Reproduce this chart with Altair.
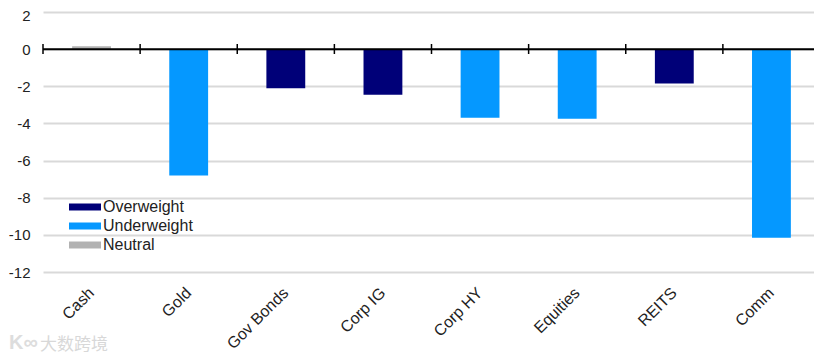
import altair as alt
import pandas as pd

categories = ["Cash", "Gold", "Gov Bonds", "Corp IG", "Corp HY", "Equities", "REITS", "Comm"]
values = [0.15, -6.8, -2.1, -2.45, -3.7, -3.75, -1.85, -10.15]
stance = ["Neutral", "Underweight", "Overweight", "Overweight", "Underweight", "Underweight", "Overweight", "Underweight"]
legend_order = ["Overweight", "Underweight", "Neutral"]
legend_colors = ["#000078", "#0598FF", "#B2B2B2"]
y_ticks = [2, 0, -2, -4, -6, -8, -10, -12]
boundaries = [0, 1, 2, 3, 4, 5, 6, 7]

df = pd.DataFrame({"cat": categories, "v": values, "stance": stance})
FONT = "Liberation Sans"

y_axis = alt.Axis(values=y_ticks, labelExpr="'' + datum.value", ticks=False, domain=False, grid=True,
                  gridColor="#D9D9D9", gridWidth=2, labelPadding=13, labelOverlap=False,
                  labelBound=False, labelFlush=False,
                  labelOffset={"condition": {"test": "datum.value == 2", "value": 3}, "value": 0},
                  labelFont=FONT, labelFontSize=15, labelColor="#222222")
y_scale = alt.Scale(domain=[-12, 2], nice=False)

bars = alt.Chart(df).mark_bar().encode(
    x=alt.X("cat:N", sort=categories, title=None,
            scale=alt.Scale(paddingInner=0.6, paddingOuter=0.3),
            axis=alt.Axis(labelAngle=-45, labelAlign="right", labelBaseline="middle",
                          labelPadding=18, ticks=False, domain=False, grid=False, labelOverlap=False,
                          labelFont=FONT, labelFontSize=16, labelColor="#222222")),
    y=alt.Y("v:Q", title=None, scale=y_scale, axis=y_axis),
    color=alt.Color("stance:N", title=None,
                    scale=alt.Scale(domain=legend_order, range=legend_colors),
                    legend=alt.Legend(orient="none", legendX=22, legendY=187,
                                      symbolType="M-4,-0.875H4V0.875H-4Z", symbolSize=64,
                                      symbolOpacity=1, symbolStrokeWidth=0,
                                      symbolOffset=12, labelOffset=10, rowPadding=3,
                                      labelFont=FONT, labelFontSize=16, labelColor="#222222")),
)

zero = alt.Chart(pd.DataFrame({"z": [0]})).mark_rule(color="#000000", strokeWidth=2).encode(
    y=alt.Y("z:Q", title=None, scale=y_scale, axis=y_axis)
)

ticks = alt.Chart(pd.DataFrame({"b": boundaries})).mark_rule(color="#000000", strokeWidth=1.5).encode(
    x=alt.X("b:Q", scale=alt.Scale(domain=[0, 8], nice=False, zero=False), axis=None),
    y=alt.value(32),
    y2=alt.value(42),
)

watermark = alt.Chart(pd.DataFrame({"t": ["大数跨境"]})).mark_text(
    font="Noto Sans CJK SC", fontSize=17, color="#D8D8D8", align="left", baseline="middle"
).encode(text="t:N", x=alt.value(-3), y=alt.value(333))

logo = alt.Chart(pd.DataFrame({"t": ["K∞"]})).mark_text(
    font=FONT, fontSize=20, fontWeight="bold", color="#DDDDDD", align="left", baseline="middle"
).encode(text="t:N", x=alt.value(-34), y=alt.value(331))

chart = alt.layer(bars, zero, ticks, watermark, logo).resolve_scale(x="independent").properties(
    width=777, height=260,
    autosize=alt.AutoSizeParams(type="none"),
    padding={"left": 35, "top": 4, "right": -6, "bottom": 84},
).configure_view(stroke=None)

chart.save("out.html", embed_options={"renderer": "svg", "actions": False})
